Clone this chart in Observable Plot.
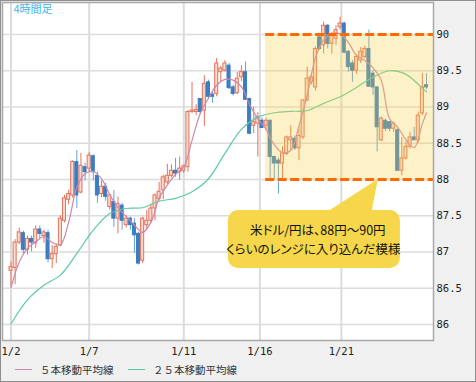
<!DOCTYPE html>
<html>
<head>
<meta charset="utf-8">
<script src="https://cdn.jsdelivr.net/npm/d3@7"></script>
<script src="https://cdn.jsdelivr.net/npm/@observablehq/plot@0.6"></script>
<style>
  html, body { margin: 0; padding: 0; background: #fff; }
  #wrap { position: relative; width: 474px; height: 380px; border: 1px solid #8e8e8e; background: #f0f0f0; overflow: hidden; }
  #chart svg { display: block; }
  #legend { position: absolute; left: 0; top: 359px; width: 474px; height: 21px; font-family: "Noto Sans CJK JP", sans-serif; font-size: 10.5px; color: #333; }
  .sw { position: absolute; top: 9px; width: 17px; height: 0; border-top: 1.5px solid; }
  .lt { position: absolute; top: 2px; line-height: 16px; white-space: nowrap; }
</style>
</head>
<body>
<div id="wrap">
  <div id="chart"></div>
  <div id="legend"></div>
</div>
<script>
// ---- data ----
const title = "4時間足";
const dateLabels = ["1/2", "1/7", "1/11", "1/16", "1/21"];
const dateIdx = [0, 19, 42, 60.5, 80.3];          // bar index of the first bar of each labelled day
const yTicks = [86, 86.5, 87, 87.5, 88, 88.5, 89, 89.5, 90];

const open  = [86.74,86.78,87.13,87.26,87.03,87.18,87.12,87.31,87.22,87.26,
               86.90,86.97,87.09,87.43,87.72,87.78,88.24,87.82,88.17,88.15,
               88.32,88.05,87.80,87.90,87.62,87.69,87.46,87.64,87.37,87.46,
               87.39,87.25,86.88,87.37,87.43,87.60,87.73,87.85,87.96,88.05,
               88.12,88.10,88.12,88.17,88.93,88.93,89.11,88.95,89.34,89.17,
               89.18,89.48,89.50,89.57,89.27,89.19,89.41,89.48,89.11,88.74,
               88.77,88.81,88.74,88.81,88.31,88.26,88.22,88.35,88.54,88.56,
               88.43,88.58,89.09,89.34,89.27,89.96,89.85,90.12,89.87,89.94,
               90.10,90.15,89.76,89.60,89.50,89.64,89.69,89.80,89.46,89.27,
               88.54,88.81,88.79,88.70,88.68,88.12,88.29,88.45,88.58,88.54,
               88.91,89.30];
const high  = [86.86,87.17,87.33,87.29,87.22,87.22,87.36,87.36,87.30,87.30,
               87.09,87.11,87.50,87.78,87.85,88.26,88.40,88.36,88.22,88.37,
               88.34,88.10,87.98,87.95,87.80,87.85,87.76,87.67,87.50,87.48,
               87.46,87.27,87.48,87.57,87.66,87.80,87.96,88.06,88.21,88.20,
               88.29,88.31,88.20,88.95,89.34,89.03,89.11,89.43,89.37,89.20,
               89.67,89.56,89.64,89.60,89.30,89.48,89.57,89.62,89.12,89.00,
               88.92,88.85,88.85,88.82,88.32,88.30,88.45,88.60,88.74,88.60,
               88.72,89.10,89.55,89.45,89.83,90.01,90.17,90.14,90.03,90.12,
               90.24,90.17,89.78,89.64,89.72,89.82,89.84,90.06,89.50,89.27,
               88.86,88.83,88.80,88.79,88.70,88.58,88.52,88.65,88.72,88.93,
               89.46,89.46];
const low   = [86.52,86.55,87.10,86.98,86.96,87.00,87.05,87.17,87.12,86.85,
               86.77,86.84,87.07,87.40,87.65,87.74,87.60,87.80,87.98,88.10,
               87.98,87.67,87.75,87.70,87.58,87.34,87.25,87.30,87.33,87.30,
               86.98,86.82,86.84,87.30,87.39,87.43,87.70,87.72,87.93,88.02,
               88.03,87.99,88.08,88.10,88.91,88.88,88.90,88.73,89.10,89.05,
               89.14,89.35,89.48,89.24,89.15,89.17,89.35,89.09,88.62,88.63,
               88.31,88.70,88.68,88.01,88.00,87.80,88.00,88.33,88.40,88.40,
               88.26,88.55,89.07,89.30,89.22,89.78,89.73,89.80,89.73,89.85,
               90.06,89.73,89.48,89.34,89.45,89.60,89.66,89.27,89.16,88.38,
               88.52,88.66,88.66,88.65,88.12,88.05,88.27,88.42,88.54,88.50,
               88.88,89.24];
const close = [86.79,87.13,87.27,87.03,87.18,87.13,87.31,87.25,87.27,86.90,
               86.97,87.07,87.46,87.74,87.80,88.24,87.78,88.19,88.10,88.33,
               88.10,87.78,87.90,87.76,87.78,87.46,87.66,87.43,87.46,87.37,
               87.23,86.84,87.46,87.43,87.60,87.78,87.83,88.03,88.05,88.12,
               88.08,88.15,88.18,88.93,88.95,88.96,88.93,89.32,89.14,89.14,
               89.60,89.53,89.60,89.26,89.18,89.39,89.48,89.10,88.63,88.79,
               88.86,88.71,88.81,88.31,88.22,88.22,88.36,88.58,88.58,88.43,
               88.60,89.09,89.39,89.41,89.80,89.80,90.12,89.87,89.99,90.06,
               90.15,89.75,89.55,89.50,89.69,89.76,89.80,89.28,89.27,88.72,
               88.84,88.70,88.70,88.77,88.12,88.29,88.45,88.58,88.54,88.88,
               89.27,89.27];

// moving averages as drawn in the reference (bar index, value)
const ma5Idx = [0,2,4,6,8,10,12,14,16,18,20,22,24,26,28,30,32,34,36,38,40,42,44,46,48,50,
                52,54,56,58,60,62,64,66,68,70,72,74,76,78,80,82,84,86,88,90,92,94,96,98,100,101];
const ma5    = [86.51,86.86,87.05,87.14,87.21,87.13,87.10,87.41,87.89,88.08,88.11,88.01,87.79,
                87.61,87.49,87.37,87.27,87.41,87.74,87.92,88.07,88.17,88.54,88.91,89.12,89.30,
                89.38,89.37,89.28,89.03,88.84,88.69,88.48,88.37,88.40,88.74,89.16,89.68,89.92,
                90.01,90.01,89.89,89.71,89.64,89.54,89.37,88.84,88.72,88.55,88.44,88.77,88.92];
const ma25Idx = [0,4,8,12,16,20,24,28,32,36,40,44,48,52,56,60,64,68,72,76,80,84,88,92,96,100,101];
const ma25    = [86.01,86.34,86.54,86.68,86.98,87.30,87.53,87.60,87.61,87.70,87.74,87.83,88.01,
                 88.36,88.69,88.86,88.92,88.94,88.95,89.05,89.14,89.27,89.41,89.50,89.45,89.26,89.21];

// highlighted range and callout
const rangeStartIdx = 61.9;
const rangeLow = 88, rangeHigh = 90;
const calloutAt = {i: 89.3, price: 88};
const calloutLines = ["米ドル/円は、88円～90円", "くらいのレンジに入り込んだ模様"];
const legendItems = [
  {label: "５本移動平均線", color: "#cc86ad"},
  {label: "２５本移動平均線", color: "#5ccaa0"}
];

// ---- build tables ----
const bars = open.map((o, i) => ({i, o, h: high[i], l: low[i], c: close[i], up: close[i] >= o}));
const ma5Data = ma5Idx.map((i, k) => ({i, v: ma5[k]}));
const ma25Data = ma25Idx.map((i, k) => ({i, v: ma25[k]}));
const labelOf = new Map(dateIdx.map((d, k) => [d, dateLabels[k]]));

const xDomain = [-2.07, 102.7];
const UP = "#e4725a", UPFILL = "#f9dbd0", DN = "#3b7dc0", DNWICK = "#62a0d8";
const mono = "DejaVu Sans Mono, monospace";

const chart = Plot.plot({
  width: 474, height: 359,
  marginLeft: 1, marginRight: 42, marginTop: 1, marginBottom: 20,
  style: {background: "#f0f0f0", fontFamily: mono, color: "#333"},
  x: {domain: xDomain, axis: null},
  y: {domain: [85.779, 90.441], axis: null},
  marks: [
    Plot.frame({fill: "white"}),
    Plot.ruleY(yTicks, {stroke: "#dcdcdc", strokeWidth: 1.5}),
    Plot.ruleX(dateIdx, {stroke: "#dcdcdc", strokeWidth: 2}),
    Plot.axisX({ticks: dateIdx, tickFormat: d => labelOf.get(d), tickSize: 0, tickPadding: 7,
                fontSize: 10.5, fontFamily: mono, fill: "#222"}),
    Plot.axisY({ticks: yTicks, anchor: "right", tickSize: 0, tickPadding: 3,
                tickFormat: d => String(d), fontSize: 10.5, fontFamily: mono, fill: "#222"}),
    // wicks
    Plot.ruleX(bars, {x: "i", y1: "l", y2: "h", stroke: d => d.up ? UP : DNWICK, strokeWidth: 1}),
    // bodies
    Plot.rect(bars, {x1: d => d.i - 0.37, x2: d => d.i + 0.37,
                     y1: "o", y2: d => (Math.abs(d.c - d.o) < 0.02 ? d.o + (d.up ? 0.02 : -0.02) : d.c),
                     fill: d => d.up ? UPFILL : DN, stroke: d => d.up ? UP : DN, strokeWidth: 1}),
    // moving averages
    Plot.line(ma25Data, {x: "i", y: "v", stroke: legendItems[1].color, strokeWidth: 1.2, curve: "catmull-rom"}),
    Plot.line(ma5Data, {x: "i", y: "v", stroke: legendItems[0].color, strokeWidth: 1.2, curve: "catmull-rom"}),
    // highlighted range
    Plot.rect([{a: rangeStartIdx, b: xDomain[1]}], {x1: "a", x2: "b", y1: () => rangeLow, y2: () => rangeHigh,
              fill: "#f5cf45", fillOpacity: 0.3}),
    Plot.ruleY([rangeLow, rangeHigh], {x1: () => rangeStartIdx, x2: () => xDomain[1], stroke: "#ff6a00",
              strokeWidth: 3, strokeDasharray: "9,3.5"}),
    Plot.text([title], {frameAnchor: "top-left", dx: 11, dy: 3, textAnchor: "start", lineAnchor: "top",
              fill: "#3fb3ee", fontSize: 11, fontFamily: "Noto Sans CJK JP"}),
    Plot.frame({stroke: "#a8a8a8", strokeWidth: 1.5})
  ]
});
document.getElementById("chart").appendChild(chart);

// callout balloon anchored at the range floor
const sx = chart.scale("x"), sy = chart.scale("y");
const ax = sx.apply(calloutAt.i), ay = sy.apply(calloutAt.price);
const L = ax - 150, R = ax + 22, T = ay + 31, B = ay + 89, r = 10;
const p = d3.path();
p.moveTo(L + r, T);
p.lineTo(ax - 48, T);
p.lineTo(ax, ay);
p.lineTo(ax - 6, T);
p.lineTo(R - r, T);
p.arcTo(R, T, R, T + r, r);
p.lineTo(R, B - r);
p.arcTo(R, B, R - r, B, r);
p.lineTo(L + r, B);
p.arcTo(L, B, L, B - r, r);
p.lineTo(L, T + r);
p.arcTo(L, T, L + r, T, r);
p.closePath();
const g = d3.select(chart).append("g");
g.append("path").attr("d", p.toString()).attr("fill", "#f6d64b");
const lineOffsets = [[-60, 51], [-64.5, 70]];
calloutLines.forEach((t, k) => {
  g.append("text")
    .attr("x", ax + lineOffsets[k][0]).attr("y", ay + lineOffsets[k][1])
    .attr("text-anchor", "middle").attr("dominant-baseline", "central")
    .attr("font-family", "Noto Sans CJK JP").attr("font-size", 12.5)
    .attr("fill", "#111")
    .style("font-feature-settings", "'palt'")
    .text(t);
});

// legend
const leg = document.getElementById("legend");
const pos = [[14, 39], [127, 152]];
legendItems.forEach((it, k) => {
  const s = document.createElement("div");
  s.className = "sw"; s.style.left = pos[k][0] + "px"; s.style.borderTopColor = it.color;
  const t = document.createElement("div");
  t.className = "lt"; t.style.left = pos[k][1] + "px"; t.textContent = it.label;
  leg.appendChild(s); leg.appendChild(t);
});
</script>
</body>
</html>
